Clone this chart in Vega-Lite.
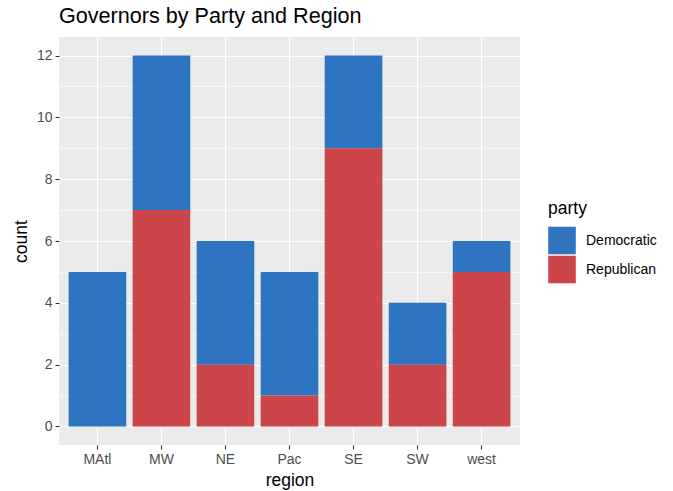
{
  "$schema": "https://vega.github.io/schema/vega-lite/v6.json",
  "autosize": {"type": "none"},
  "width": 461,
  "height": 408,
  "padding": {"left": 59, "top": 37, "right": 153, "bottom": 46},
  "background": "white",
  "title": {
    "text": "Governors by Party and Region",
    "anchor": "start",
    "frame": "group",
    "font": "Liberation Sans",
    "fontSize": 21.6,
    "fontWeight": "normal",
    "color": "#000000",
    "offset": 9
  },
  "config": {
    "view": {"fill": "#EBEBEB", "stroke": null},
    "font": "Liberation Sans"
  },
  "data": {
    "values": [
      {"region": "MAtl", "party": "Democratic", "count": 5},
      {"region": "MAtl", "party": "Republican", "count": 0},
      {"region": "MW", "party": "Democratic", "count": 5},
      {"region": "MW", "party": "Republican", "count": 7},
      {"region": "NE", "party": "Democratic", "count": 4},
      {"region": "NE", "party": "Republican", "count": 2},
      {"region": "Pac", "party": "Democratic", "count": 4},
      {"region": "Pac", "party": "Republican", "count": 1},
      {"region": "SE", "party": "Democratic", "count": 3},
      {"region": "SE", "party": "Republican", "count": 9},
      {"region": "SW", "party": "Democratic", "count": 2},
      {"region": "SW", "party": "Republican", "count": 2},
      {"region": "west", "party": "Democratic", "count": 1},
      {"region": "west", "party": "Republican", "count": 5}
    ]
  },
  "mark": {"type": "bar", "strokeWidth": 0},
  "encoding": {
    "x": {
      "field": "region",
      "type": "nominal",
      "sort": ["MAtl", "MW", "NE", "Pac", "SE", "SW", "west"],
      "scale": {"paddingInner": 0.1, "paddingOuter": 0.15},
      "axis": {
        "title": "region",
        "titleFont": "Liberation Sans",
        "titleFontSize": 17.5,
        "titleFontWeight": "normal",
        "titleColor": "#000000",
        "titlePadding": 5,
        "labelAngle": 0,
        "labelFontSize": 14,
        "labelColor": "#4D4D4D",
        "labelPadding": 3,
        "bandPosition": 0.5,
        "grid": true,
        "gridColor": "#FFFFFF",
        "gridWidth": 1.1,
        "domain": false,
        "tickColor": "#333333",
        "tickSize": 4,
        "tickWidth": 1.1
      }
    },
    "y": {
      "field": "count",
      "type": "quantitative",
      "stack": "zero",
      "scale": {"domain": [-0.6, 12.6], "nice": false, "zero": false},
      "axis": {
        "title": "count",
        "titleFont": "Liberation Sans",
        "titleFontSize": 17.5,
        "titleFontWeight": "normal",
        "titleColor": "#000000",
        "titlePadding": 6,
        "values": [0, 1, 2, 3, 4, 5, 6, 7, 8, 9, 10, 11, 12],
        "labelExpr": "datum.value % 2 === 0 ? datum.label : ''",
        "labelFontSize": 14,
        "labelColor": "#4D4D4D",
        "labelPadding": 3,
        "grid": true,
        "gridColor": "#FFFFFF",
        "gridWidth": {"condition": {"test": "datum.value % 2 === 1", "value": 0.55}, "value": 1.1},
        "domain": false,
        "tickColor": "#333333",
        "tickOpacity": {"condition": {"test": "datum.value % 2 === 1", "value": 0}, "value": 1},
        "tickSize": 4,
        "tickWidth": 1.1
      }
    },
    "color": {
      "field": "party",
      "type": "nominal",
      "scale": {"domain": ["Democratic", "Republican"], "range": ["#2E74C1", "#CC454B"]},
      "legend": {
        "title": "party",
        "titleFont": "Liberation Sans",
        "titleFontSize": 17.5,
        "titleFontWeight": "normal",
        "titleColor": "#000000",
        "titlePadding": 9,
        "orient": "none",
        "legendX": 489,
        "legendY": 163,
        "symbolType": "square",
        "symbolSize": 760,
        "symbolStrokeWidth": 0,
        "symbolOpacity": 1,
        "rowPadding": 1,
        "labelFontSize": 14,
        "labelColor": "#000000",
        "labelOffset": 10
      }
    },
    "order": {"field": "party", "sort": "descending"}
  }
}
